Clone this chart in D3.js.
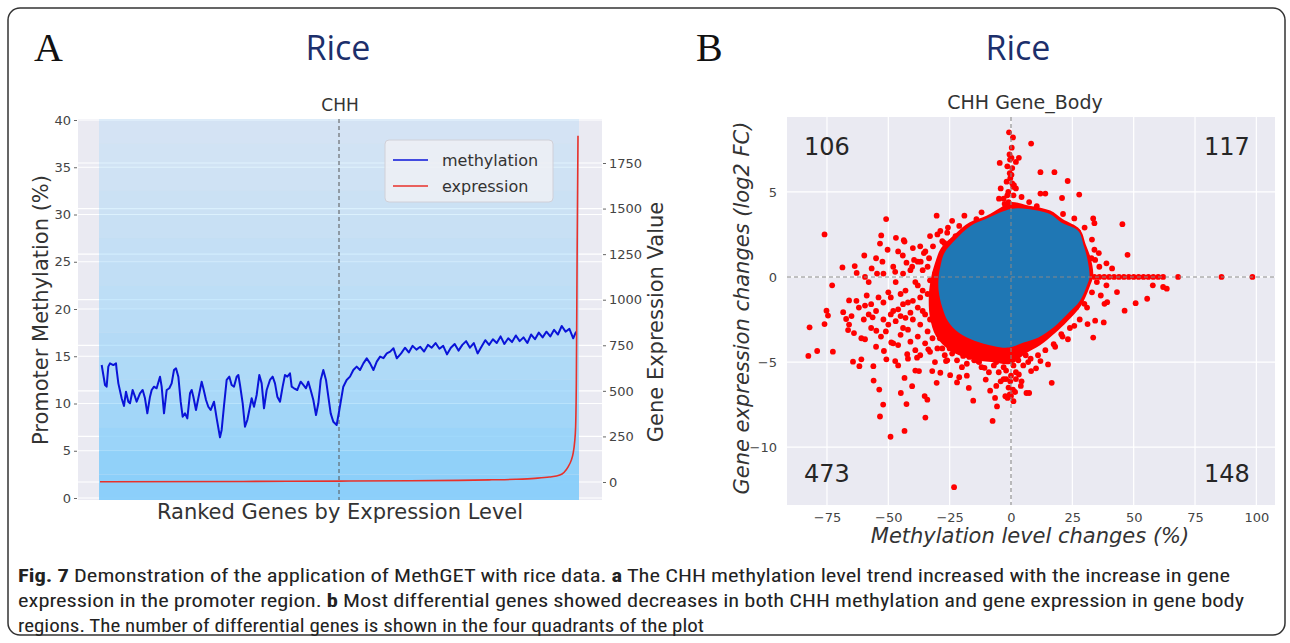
<!DOCTYPE html>
<html>
<head>
<meta charset="utf-8">
<script src="https://cdn.jsdelivr.net/npm/d3@7"></script>
<style>
  body { margin: 0; background: #fff; }
  text { font-family: "DejaVu Sans", sans-serif; }
</style>
</head>
<body>
<svg id="fig" width="1290" height="643"></svg>
<script>
// ---------------- data ----------------
// panel A : methylation trend (x = gene rank percentile, y = CHH methylation %)
var methRank = [0.35,1.05,1.39,1.74,2.09,2.79,3.35,3.49,3.84,4.53,5.02,5.44,5.93,6.28,6.83,7.32,7.67,8.37,8.93,9.41,
  9.90,10.46,10.81,11.30,11.85,12.55,12.90,13.39,13.95,14.50,14.99,15.48,15.90,16.39,16.88,17.29,17.78,18.27,18.83,19.18,
  19.53,20.08,20.57,21.27,21.62,22.18,22.66,23.15,23.85,24.41,25.10,25.45,25.94,26.50,27.06,27.54,28.03,28.59,28.94,29.29,
  29.85,30.33,30.82,31.24,31.73,32.22,32.77,33.33,33.82,34.31,34.87,35.56,36.12,36.61,37.10,37.66,38.21,38.70,39.19,39.75,
  40.10,40.59,41.28,41.98,42.54,43.10,43.58,44.07,44.63,45.19,45.68,46.17,46.72,47.28,47.77,48.26,48.81,49.51,50.07,50.9,
  51.6,52.3,53.0,53.7,54.4,55.1,55.8,56.5,57.2,57.9,58.6,59.3,60.0,60.7,61.4,62.1,63.0,63.8,64.6,65.4,
  66.2,67.0,67.8,68.6,69.4,70.2,71.0,71.8,72.6,73.4,74.2,75.0,75.8,76.6,77.4,78.2,79.0,79.8,80.6,81.4,
  82.2,83.0,83.8,84.6,85.4,86.2,87.0,87.8,88.6,89.4,90.2,91.0,91.8,92.6,93.4,94.2,95.0,95.8,96.6,97.4,
  98.2,99.0,99.6];
var methVal = [14.07,11.96,11.78,13.9,14.25,14.07,14.25,13.54,12.13,10.55,9.74,11.25,10.19,10.02,11.43,10.72,10.19,11.08,11.43,10.55,
  8.96,10.72,11.43,11.78,11.61,12.84,11.78,8.96,11.43,11.61,12.13,13.54,13.72,12.84,10.19,8.60,8.96,8.43,11.08,11.43,
  10.72,9.31,10.55,12.31,11.61,10.37,9.66,9.31,10.19,8.43,6.42,7.20,9.74,12.49,12.84,11.96,11.78,12.84,13.02,11.96,
  10.02,7.55,8.25,9.31,10.55,9.66,10.90,13.02,12.13,9.49,11.43,12.49,12.84,12.13,10.72,10.19,11.78,13.02,12.84,13.19,
  11.78,11.61,11.43,12.31,11.96,11.61,12.31,11.43,10.37,8.78,10.02,12.49,13.54,12.49,10.72,8.96,8.07,7.72,9.31,11.78,
  12.49,12.84,13.54,13.9,13.54,14.25,14.78,14.25,13.54,14.43,14.96,14.8,15.31,15.49,15.84,14.78,15.3,15.9,15.4,16.1,
  15.7,16.0,15.5,16.2,15.9,16.4,15.8,16.1,15.2,15.9,16.3,15.6,16.2,16.6,15.9,16.4,15.3,16.0,16.7,16.2,
  16.8,16.4,17.1,16.3,16.9,16.5,17.2,16.6,17.0,16.4,17.3,16.8,17.5,17.0,17.6,17.1,17.8,17.3,18.2,17.6,
  17.9,16.9,17.6];

// panel A : expression curve (right axis)
var exprRank = [0, 30, 50, 65, 75, 82, 87, 91, 94, 96.2, 97.9, 98.6, 99.0, 99.3, 99.5, 99.65, 99.8, 100];
var exprVal  = [1, 3, 5, 7, 9, 12, 15, 20, 27, 38, 82, 120, 160, 220, 300, 540, 1180, 1900];

// panel A : background gene scatter, shown as point density per methylation band
var densLow = [0, 2.5, 5, 7.5, 10, 12.5, 15, 17.5, 20, 22.5, 25, 27.5, 30, 32.5, 35, 37.5];
var densVal = [0.95, 0.9, 0.8, 0.72, 0.66, 0.6, 0.54, 0.5, 0.46, 0.42, 0.38, 0.34, 0.31, 0.28, 0.25, 0.22];

var leftTicks = [0, 5, 10, 15, 20, 25, 30, 35, 40];
var rightTicks = [0, 250, 500, 750, 1000, 1250, 1500, 1750];

// panel B : dense non-significant cloud (outline) and red fringe right around it
var blobX = [0, -4.2, -10.3, -16.5, -22.6, -27.2, -28.8, -29.5, -29.5, -28.0, -25.7, -21.1, -14.9, -7.2, -1.1, 5.1, 11.2, 17.4, 22.8, 28.1, 31.2, 32.0, 31.2, 29.7, 27.4, 20.5, 15.8, 6.6];
var blobY = [4.0, 3.8, 3.4, 3.0, 2.2, 1.4, 0.6, 0, -0.8, -1.8, -2.6, -3.3, -3.75, -4.05, -4.15, -3.85, -3.55, -2.95, -2.2, -1.4, -0.4, 0, 1.0, 1.8, 2.7, 3.2, 3.7, 4.0];
var haloX = [0, -4, -10, -17, -23, -28.5, -31, -32.5, -33.5, -33, -30.5, -25, -17, -8, 0, 6, 12, 18, 23, 28.5, 32, 33.5, 32.5, 30.5, 28, 21, 16, 7];
var haloY = [4.4, 4.1, 3.6, 3.2, 2.5, 1.7, 0.8, 0, -1.1, -2.4, -3.5, -4.3, -4.8, -5.0, -5.1, -4.5, -4.0, -3.3, -2.6, -1.7, -0.6, 0.1, 1.1, 1.9, 2.8, 3.4, 3.9, 4.2];

// panel B : differential genes (red)
var diffX = [-0.8,0.8,8.2,3.2,2,-4.6,0.5,12,17.7,23.1,12,14,27.8,20.8,-4.2,-1.8,-0.3,-1.1,-4.9,-2.6,4.3,7.4,10.5,21.2,25.8,33.5,34,45.4,27.4,47.5,
  -30.3,-50.9,-76,-52.9,-46.9,-43.7,-43.4,-53.4,-50.3,-59.8,-44.1,-52.4,-42.6,-68.7,-63.7,-62.9,-59.5,-56.8,-54.6,-47.2,-34.9,-36.8,-33.4,-31.8,-28,-25.7,-21.1,-28.8,-27.2,-22.6,
  -14.1,-39.5,-40.3,-35.5,34,36,38,40,42,44,46,48,50,52,54,56,58,60,62,68.1,85.8,98.4,34.3,38.9,41.2,35.8,32.8,
  -82.1,-82.6,-79,-76,-75.2,-74.6,-72.9,-72.6,-66.4,-66,-68.4,-67.2,-64.4,-61.8,-61,-59.5,-58.8,-59.5,-56.4,-56.1,-56,-54.9,-53.7,-53.4,-52.1,-51.8,-50.8,-49.1,-48.8,-47.2,
  -44.9,-43.4,-43.4,-42.6,-42.3,-40.3,-38.3,-37.5,-35.2,-34.9,-34.1,-33.7,-32.1,-30.3,-28.8,-26.5,-24.8,-23.2,-21.1,-19.5,-17.2,-15.4,-13.4,-10.8,-10.3,-8.5,-7.5,-6.5,-5.7,-4.2,
  -2.3,-1.4,-0.3,0.8,1.7,3.2,4.3,6.3,7.4,8.2,10.2,12,15.1,16.6,17.4,20.5,23.2,25.8,26.6,29.9,31.2,33.5,34.3,37.8,38.1,39.2,43.2,46.3,50.8,55.5,
  57.8,62,63.5,36.6,38.9,-8,-6,-4,-2,0,1,2,3,-1,0,-3,5,6,8,-5,-7,1,-0.5,-45,-48,
  -42,-38,-40,-36,-44,-50,-52,-46,-38,-34,-33,-41,-55,-57,-62,-64,-47,-43,-37,-53,-49,-45,-39,-30,-27,-25,-22,-18,-15,-12,
  -60,-66,-58,0.3,-0.6,1.2,-1.5,0.9,0.2,-0.4,
  -31,-32,-33,-34,-35,-36,-37,-38,-39,-40,-41,-42,-43,-44,-45,-46,-47,-48,-49,-50,-51,-52,-54,-55,-57,-58,-61,-63,-65,-32,
  -35,-37,-33,-29,-28,-26,-24,-20,-17,-13,-9,-11,-36,-38,-41,-44,-46,-48,-52,-55,-40,-33,-30,-26,-24,-19,-12,-37,-34,-31,
  -42,-46,-39,-31,-22,-18,-3,2,4,-2,-6,7,11,14,18,21,24,28,31,33,35,36,34,33,30,-3,2,-1,1,0.5,
  -0.5,0.2,-1.5];
var diffY = [8.5,8.2,7.84,7.0,6.76,6.7,6.4,6.16,6.16,5.64,4.9,4.9,4.84,4.64,5.2,5.6,5.8,5.0,4.6,4.3,4.7,4.4,4.16,3.7,3.44,3.44,3.16,3.1,2.64,1.3,
  3.6,3.4,2.5,2.44,2.3,2.16,2.08,1.96,1.6,1.26,1.26,0.9,0.84,0.56,0.64,0.24,0,0.5,0.2,0.3,1.5,0.9,1.1,1.8,2.1,2.9,3.0,2.7,2.0,2.4,
  3.4,1.0,0.6,1.4,0,0,0,0,0,0,0,0,0,0,0,0,0,0,0,0,0,0,1.0,0.8,0.5,1.4,1.1,
  -2.96,-4.64,-4.35,-2.77,-1.98,-2.27,-0.49,-4.39,-3.12,-1.38,-2.07,-2.47,-4.98,-5.24,-4.84,-3.66,-1.09,-1.68,-2.37,-5.24,-6.09,-3.16,-6.62,-8.2,-7.5,-4.35,-4.84,-9.39,-3.85,-4.94,
  -6.82,-5.93,-9.05,-7.47,-4.54,-6.42,-4.74,-5.53,-7.0,-8.26,-7.21,-4.25,-5.53,-6.22,-5.63,-4.94,-5.77,-12.35,-5.89,-4.64,-6.52,-7.27,-4.94,-5.34,-6.03,-6.68,-8.46,-7.11,-7.61,-6.13,
  -7.01,-7.11,-6.13,-6.62,-6.76,-5.73,-6.13,-6.82,-6.82,-5.53,-5.37,-4.94,-5.14,-6.22,-3.95,-3.36,-3.66,-2.87,-1.78,-1.58,-2.77,-3.56,-2.57,-2.67,-1.58,-1.48,-0.89,-1.98,-1.54,-1.28,
  -0.49,-0.59,-0.69,-1.09,-0.49,-4.5,-5,-4.8,-5.5,-5.8,-5.2,-6,-4.9,-6.5,-7,-6,-5.2,-4.6,-4.8,-5.6,-5.2,-7.3,-6.9,-1,-2,
  -1.5,-0.5,-2.5,-2,-3,-2.8,-1.5,-4,-3.5,-3.2,-2.5,-3.8,-2,-3,-1.8,-3.3,-0.3,-0.8,-1.2,-3.5,-1.2,-2.3,-4.3,-4.2,-4.6,-4.2,-4.9,-5.1,-4.9,-5.3,
  -2.5,-2.8,-0.3,7.6,7.2,5.4,4.8,5.3,6.0,6.9,
  -0.5,-1.5,-0.2,-1,-2.2,-0.8,-2.8,-1.8,-0.3,-1.4,-2.1,-3.1,-2.4,-1.6,-3.4,-1.9,-2.6,-3.9,-2.2,-0.9,-3.2,-2.5,-1.2,-4.1,-1.6,-2.2,-3.6,-1.4,-2.3,-3.6,
  -3.9,-4.6,-4.4,-3.6,-4.2,-4.9,-4.5,-5.3,-4.7,-5.0,-5.6,-4.6,0.4,0.9,0.4,0.2,1.5,0.6,0.2,1.1,1.7,2.4,2.5,2.6,3.3,3.6,3.8,1.8,0.6,0.2,
  -4.8,-5.2,-5.5,-5.0,-6.2,-5.8,-5.3,-5.6,-6.4,-6.0,-6.4,-5.0,-4.6,-4.3,-4.1,-3.5,-3.0,-2.5,-1.8,-0.9,-0.3,0.6,1.6,2.2,2.9,4.6,5.2,4.4,4.8,5.5,
  6.1,7.0,6.5];

var bxTicks = [-75, -50, -25, 0, 25, 50, 75, 100];
var byTicks = [-10, -5, 0, 5];
var quadCounts = ["106", "117", "473", "148"];

// ---------------- drawing ----------------
var svg = d3.select("#fig");
var bg = "#eaeaf2";

// outer frame
svg.append("rect").attr("x", 8).attr("y", 8).attr("width", 1277).attr("height", 627)
  .attr("rx", 12).attr("fill", "none").attr("stroke", "#333").attr("stroke-width", 1.5);

// panel letters and titles
svg.append("text").attr("x", 34).attr("y", 61).text("A")
  .style("font-family", "'Liberation Serif', serif").style("font-size", "40px").attr("fill", "#111");
svg.append("text").attr("x", 696).attr("y", 61).text("B")
  .style("font-family", "'Liberation Serif', serif").style("font-size", "40px").attr("fill", "#111");
[338, 1018].forEach(function(cx) {
  svg.append("text").attr("x", cx).attr("y", 60).attr("text-anchor", "middle").text("Rice")
    .style("font-family", "'Open Sans', sans-serif").style("font-size", "34px").attr("fill", "#1c2f6b");
});

// ===== panel A =====
var xA = d3.scaleLinear().domain([0, 100]).range([100, 578]);
var yL = d3.scaleLinear().domain([0, 40]).range([498, 120]);
var yR = d3.scaleLinear().domain([0, 1750]).range([482, 163]);
var gA = svg.append("g");

gA.append("rect").attr("x", 78).attr("y", 119).attr("width", 524).attr("height", 381).attr("fill", bg);

// grid (both axes)
leftTicks.forEach(function(t) {
  gA.append("line").attr("x1", 78).attr("x2", 602).attr("y1", yL(t)).attr("y2", yL(t))
    .attr("stroke", "#fff").attr("stroke-width", 1.2);
});
rightTicks.forEach(function(t) {
  gA.append("line").attr("x1", 78).attr("x2", 602).attr("y1", yR(t)).attr("y2", yR(t))
    .attr("stroke", "#fff").attr("stroke-width", 1.2);
});

// gene scatter density
gA.selectAll("rect.dens").data(densLow).enter().append("rect")
  .attr("class", "dens")
  .attr("x", xA(0) - 1).attr("width", xA(100) - xA(0) + 2)
  .attr("y", function(d) { return d === 37.5 ? 119 : yL(d + 2.5); })
  .attr("height", function(d) { return (d === 0 ? 500 : yL(d)) - (d === 37.5 ? 119 : yL(d + 2.5)); })
  .attr("fill", "#87cefa")
  .attr("fill-opacity", function(d, i) { return densVal[i]; });

// median divider
gA.append("line").attr("x1", xA(50)).attr("x2", xA(50)).attr("y1", 119).attr("y2", 500)
  .attr("stroke", "#555").attr("stroke-width", 1).attr("stroke-dasharray", "4,3");

// methylation line
var methLine = d3.line().x(function(d, i) { return xA(methRank[i]); }).y(function(d) { return yL(d); });
gA.append("path").attr("d", methLine(methVal)).attr("fill", "none")
  .attr("stroke", "#0a14d8").attr("stroke-width", 2).attr("stroke-linejoin", "round");

// expression line
var exprLine = d3.line().x(function(d, i) { return xA(exprRank[i]); }).y(function(d) { return yR(d); })
  .curve(d3.curveMonotoneX);
gA.append("path").attr("d", exprLine(exprVal)).attr("fill", "none")
  .attr("stroke", "#e8312a").attr("stroke-width", 1.6);

// axes
var axL = gA.append("g").attr("transform", "translate(77,0)")
  .call(d3.axisLeft(yL).tickValues(leftTicks).tickSize(3).tickPadding(3));
var axR = gA.append("g").attr("transform", "translate(603,0)")
  .call(d3.axisRight(yR).tickValues(rightTicks).tickFormat(d3.format("d")).tickSize(3).tickPadding(3));
[axL, axR].forEach(function(ax) {
  ax.select(".domain").remove();
  ax.selectAll("line").attr("stroke", "#666");
  ax.selectAll("text").style("font-size", "13px").attr("fill", "#444");
});

gA.append("text").attr("x", 340).attr("y", 111).attr("text-anchor", "middle").text("CHH")
  .style("font-size", "17px").attr("fill", "#333");
gA.append("text").attr("transform", "translate(48,310) rotate(-90)").attr("text-anchor", "middle")
  .text("Promoter Methylation (%)").style("font-size", "21px").attr("fill", "#333");
gA.append("text").attr("transform", "translate(663,322) rotate(-90)").attr("text-anchor", "middle")
  .text("Gene Expression Value").style("font-size", "21px").attr("fill", "#333");
gA.append("text").attr("x", 340).attr("y", 519).attr("text-anchor", "middle")
  .text("Ranked Genes by Expression Level").style("font-size", "21px").attr("fill", "#333");

// legend
var lg = gA.append("g").attr("transform", "translate(385,140)");
lg.append("rect").attr("width", 168).attr("height", 62).attr("rx", 4)
  .attr("fill", "#eef0f5").attr("fill-opacity", 0.85).attr("stroke", "#d0d0d8");
[["methylation", "#0a14d8"], ["expression", "#e8312a"]].forEach(function(e, i) {
  lg.append("line").attr("x1", 8).attr("x2", 43).attr("y1", 20 + i * 26).attr("y2", 20 + i * 26)
    .attr("stroke", e[1]).attr("stroke-width", 1.6);
  lg.append("text").attr("x", 57).attr("y", 26 + i * 26).text(e[0])
    .style("font-size", "16px").attr("fill", "#333");
});

// ===== panel B =====
var xB = d3.scaleLinear().domain([-91.3, 107.6]).range([787, 1275]);
var yB = d3.scaleLinear().domain([-13.4, 9.4]).range([505, 117]);
var gB = svg.append("g");

gB.append("rect").attr("x", 787).attr("y", 117).attr("width", 488).attr("height", 388).attr("fill", bg);
bxTicks.forEach(function(t) {
  gB.append("line").attr("x1", xB(t)).attr("x2", xB(t)).attr("y1", 117).attr("y2", 505)
    .attr("stroke", "#fff").attr("stroke-width", 1.2);
});
byTicks.forEach(function(t) {
  gB.append("line").attr("x1", 787).attr("x2", 1275).attr("y1", yB(t)).attr("y2", yB(t))
    .attr("stroke", "#fff").attr("stroke-width", 1.2);
});

var blobPath = d3.line().curve(d3.curveCatmullRomClosed.alpha(0.5));
gB.append("path")
  .attr("d", blobPath(haloX.map(function(x, i) { return [xB(x), yB(haloY[i])]; })))
  .attr("fill", "#ff0000");
gB.selectAll("circle.diff").data(diffX).enter().append("circle")
  .attr("class", "diff")
  .attr("cx", function(d) { return xB(d); })
  .attr("cy", function(d, i) { return yB(diffY[i]); })
  .attr("r", 2.9).attr("fill", "#ff0000");
gB.append("path")
  .attr("d", blobPath(blobX.map(function(x, i) { return [xB(x), yB(blobY[i])]; })))
  .attr("fill", "#1f77b4");

// zero lines
gB.append("line").attr("x1", xB(0)).attr("x2", xB(0)).attr("y1", 117).attr("y2", 505)
  .attr("stroke", "#888").attr("stroke-width", 1.1).attr("stroke-dasharray", "4,3");
gB.append("line").attr("x1", 787).attr("x2", 1275).attr("y1", yB(0)).attr("y2", yB(0))
  .attr("stroke", "#888").attr("stroke-width", 1.1).attr("stroke-dasharray", "4,3");

// quadrant counts
var qPos = [[-75, 7.7], [88, 7.7], [-75, -11.5], [88, -11.5]];
quadCounts.forEach(function(c, i) {
  gB.append("text").attr("x", xB(qPos[i][0])).attr("y", yB(qPos[i][1]) + 9)
    .attr("text-anchor", "middle").text(c).style("font-size", "24px").attr("fill", "#262626");
});

var axBL = gB.append("g").attr("transform", "translate(787,0)")
  .call(d3.axisLeft(yB).tickValues(byTicks).tickSize(0).tickPadding(10));
var axBB = gB.append("g").attr("transform", "translate(0,505)")
  .call(d3.axisBottom(xB).tickValues(bxTicks).tickSize(0).tickPadding(8));
[axBL, axBB].forEach(function(ax) {
  ax.select(".domain").remove();
  ax.selectAll("text").style("font-size", "13px").attr("fill", "#444");
});

gB.append("text").attr("x", 1025).attr("y", 109).attr("text-anchor", "middle").text("CHH Gene_Body")
  .style("font-size", "19px").attr("fill", "#333");
gB.append("text").attr("transform", "translate(749,308) rotate(-90)").attr("text-anchor", "middle")
  .text("Gene expression changes (log2 FC)").style("font-size", "21px").style("font-style", "italic")
  .attr("fill", "#333");
gB.append("text").attr("x", 1030).attr("y", 543).attr("text-anchor", "middle")
  .text("Methylation level changes (%)").style("font-size", "21px").style("font-style", "italic")
  .attr("fill", "#333");

// ===== caption =====
var capFont = "'Liberation Sans Narrow', 'Roboto Condensed', 'Open Sans', sans-serif";
var capLines = [
  { y: 582, w: 1212, parts: [["Fig. 7", 1], [" Demonstration of the application of MethGET with rice data. ", 0], ["a", 1],
    [" The CHH methylation level trend increased with the increase in gene", 0]] },
  { y: 607, w: 1226, parts: [["expression in the promoter region. ", 0], ["b", 1],
    [" Most differential genes showed decreases in both CHH methylation and gene expression in gene body", 0]] },
  { y: 632, w: 686, parts: [["regions. The number of differential genes is shown in the four quadrants of the plot", 0]] }
];
capLines.forEach(function(l) {
  var t = svg.append("text").attr("x", 18).attr("y", l.y)
    .attr("textLength", l.w).attr("lengthAdjust", "spacingAndGlyphs")
    .style("font-family", capFont).style("font-size", "19px").attr("fill", "#222");
  l.parts.forEach(function(p) {
    t.append("tspan").text(p[0]).style("font-weight", p[1] ? "bold" : "normal");
  });
});
</script>
</body>
</html>
